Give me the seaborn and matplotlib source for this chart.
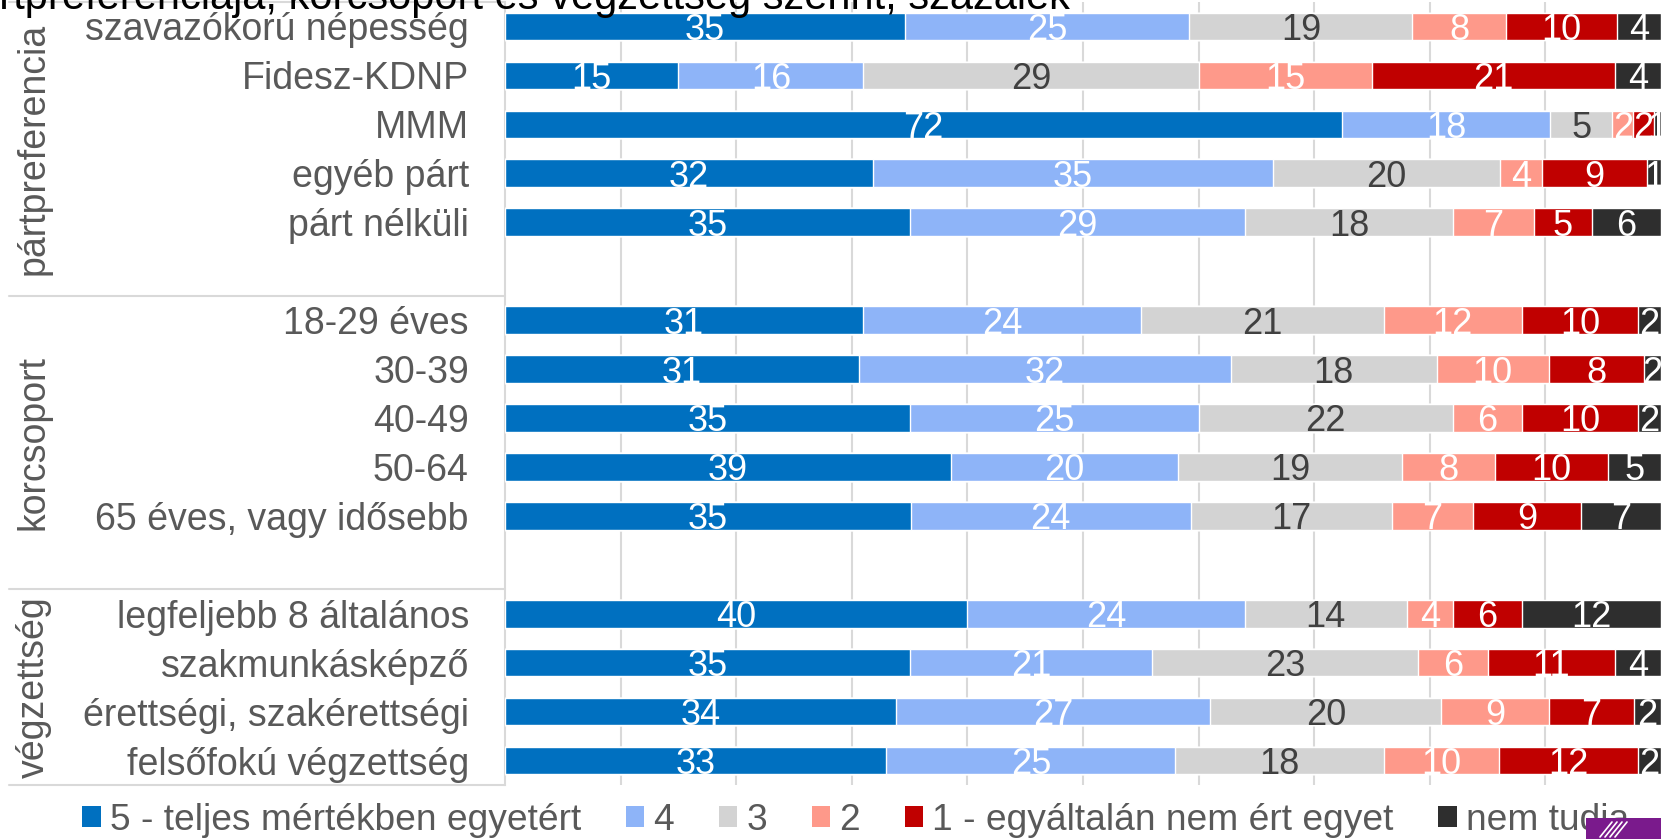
import matplotlib
matplotlib.use("Agg")
import matplotlib.pyplot as plt
import matplotlib.transforms as mtransforms
from matplotlib.patches import Patch, Rectangle
from matplotlib.lines import Line2D
import pandas as pd
import seaborn as sns

# Data
rows = ["szavazókorú népesség", "Fidesz-KDNP", "MMM", "egyéb párt", "párt nélküli",
        "18-29 éves", "30-39", "40-49", "50-64", "65 éves, vagy idősebb",
        "legfeljebb 8 általános", "szakmunkásképző", "érettségi, szakérettségi",
        "felsőfokú végzettség"]
# blank slots between the groups
order = rows[:5] + [" "] + rows[5:10] + ["  "] + rows[10:]
groups = ["pártpreferencia", "korcsoport", "végzettség"]
levels = ["5 - teljes mértékben egyetért", "4", "3", "2",
          "1 - egyáltalán nem ért egyet", "nem tudja"]

# percentages (labels show them rounded)
v5 = [34.6, 15, 72.4, 31.8, 35, 31, 30.6, 35, 38.6, 35.1, 40, 35, 33.8, 33]
v4 = [24.6, 16, 18.0, 34.6, 29, 24, 32.2, 25, 19.6, 24.2, 24, 21, 27.2, 25]
v3 = [19.3, 29, 5.4, 19.7, 18, 21, 17.8, 22, 19.4, 17.4, 14, 23, 20.0, 18]
v2 = [8.1, 15, 1.8, 3.6, 7, 12, 9.7, 6, 8.0, 7.0, 4, 6, 9.3, 10]
v1 = [9.6, 21, 1.8, 9.1, 5, 10, 8.2, 10, 9.8, 9.4, 6, 11, 7.4, 12]
vn = [3.8, 4, 0.6, 1.2, 6, 2, 1.5, 2, 4.6, 6.9, 12, 4, 2.3, 2]

colors = ["#0070C0", "#8EB4F8", "#D3D3D3", "#FE998A", "#C00000", "#2E2E2E"]
label_colors = ["white", "white", "#404040", "white", "white", "white"]

df = pd.DataFrame({"row": rows})
for lev, vals in zip(levels, [v5, v4, v3, v2, v1, vn]):
    df[lev] = vals
cum = df[levels].cumsum(axis=1)

sns.set_theme(style="white")
plt.rcParams["font.family"] = ["Liberation Sans", "DejaVu Sans"]

W, H = 1661, 839
fig = plt.figure(figsize=(W / 100, H / 100), dpi=100)
ax = fig.add_axes([505 / W, 1 - 785 / H, 1156 / W, 783 / H])

# stacked bars: draw the cumulative totals from the last level backwards
for i in range(len(levels) - 1, -1, -1):
    d = pd.DataFrame({"row": rows, "cum": cum[levels[i]]})
    sns.barplot(data=d, x="cum", y="row", order=order, color=colors[i],
                width=0.565, saturation=1, errorbar=None, orient="h", ax=ax, zorder=3)

ax.set_xlim(0, 100)
ax.set_xlabel("")
ax.set_ylabel("")
ax.set_xticks(range(10, 100, 10))
ax.xaxis.grid(True, color="#D9D9D9", linewidth=1.5, zorder=0)
ax.set_axisbelow(True)
ax.tick_params(axis="x", labelbottom=False, length=0)
ax.tick_params(axis="y", labelsize=27, labelcolor="#595959", length=0, pad=26)
for s in ["top", "right", "bottom"]:
    ax.spines[s].set_visible(False)
ax.spines["left"].set_color("#D9D9D9")
ax.spines["left"].set_linewidth(1.5)

# value labels
for i, lev in enumerate(levels):
    for r, row in enumerate(rows):
        v = df.loc[r, lev]
        ax.text(cum.loc[r, lev] - v / 2, order.index(row), f"{v:.0f}",
                ha="center", va="center_baseline", fontsize=26,
                color=label_colors[i], zorder=5)

# group labels and box lines on the left
trans = mtransforms.blended_transform_factory(ax.transAxes, ax.transData)
x_left = (8.5 - 505) / 1156
for y in [-0.5, 5.5, 11.5, 15.5]:
    ax.add_line(Line2D([x_left, 0], [y, y], transform=trans, color="#D9D9D9",
                       linewidth=1.5, clip_on=False))
for g, yc in zip(groups, [2.5, 8.5, 13.5]):
    ax.text((34 - 505) / 1156, yc, g, transform=trans, rotation=90, ha="center",
            va="center", fontsize=27, color="#595959", clip_on=False)

# legend
handles = [Patch(facecolor=c, edgecolor="none") for c in colors]
fig.legend(handles, levels, loc="center left", bbox_to_anchor=(82 / W, 19 / H),
           ncol=6, frameon=False, fontsize=26.7, handlelength=0.5, handleheight=0.5,
           handletextpad=0.25, columnspacing=1.2, borderpad=0, borderaxespad=0,
           labelcolor="#595959")

# title (cut off at the top of the image)
fig.text(1070 / W, 1 - 9 / H, "pártpreferenciája, korcsoport és végzettség szerint, százalék",
         ha="right", va="baseline", fontsize=30, color="black")

# logo corner
fig.patches.append(Rectangle((1586 / W, 0), 75 / W, 21 / H, transform=fig.transFigure,
                             facecolor="#7A1A8C", edgecolor="none", zorder=10))
for k in range(4):
    fig.lines.append(Line2D([(1600 + 5 * k) / W, (1612 + 5 * k) / W], [2 / H, 17 / H],
                            transform=fig.transFigure, color="white", linewidth=1.2, zorder=11))

fig.savefig("out.png", dpi=100)
